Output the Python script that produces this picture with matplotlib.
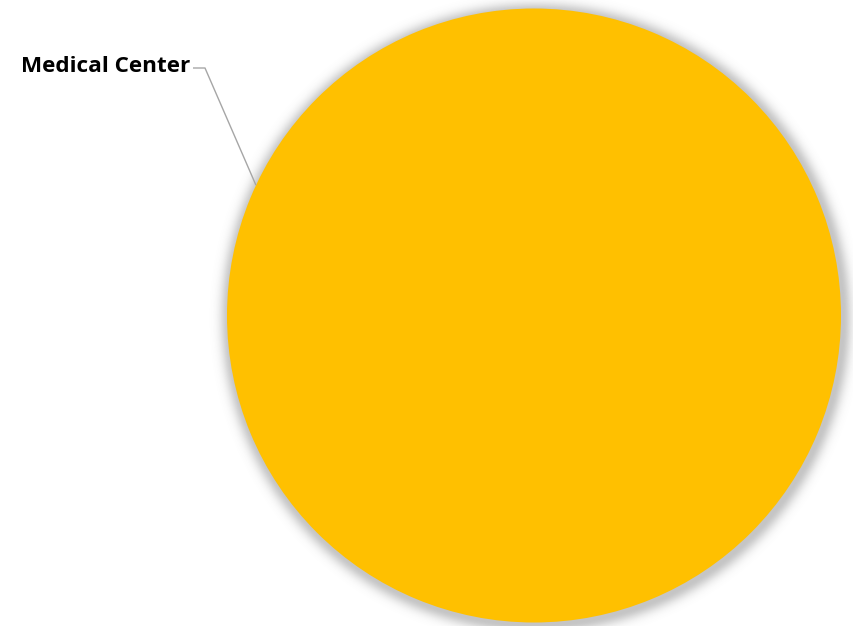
import numpy as np
import matplotlib
matplotlib.use("Agg")
import matplotlib.pyplot as plt

# Data
categories = ["Medical Center"]
values = [100]
colors = ["#FFC000"]

W, H, DPI = 854, 626, 100
fig = plt.figure(figsize=(W / DPI, H / DPI), dpi=DPI)
ax = fig.add_axes([0, 0, 1, 1])

# Pie geometry in pixels, converted to data units (1 unit = pie radius)
cx, cy, rpx = 534, 315.5, 307

# Soft drop shadow around the pie
xs = np.linspace(-1.2, 1.2, 800)
ys = np.linspace(-1.2, 1.2, 800)
X, Y = np.meshgrid(xs, ys)
D = np.hypot(X - 0.004, Y + 0.008) - 1.0
alpha = np.where(D > 0, 0.38 * np.exp(-(D / 0.03) ** 2), 0.38)
shadow = np.zeros(X.shape + (4,))
shadow[..., :3] = 0.4
shadow[..., 3] = alpha
ax.imshow(shadow, extent=(-1.2, 1.2, -1.2, 1.2), origin="lower",
          zorder=0, interpolation="bilinear")

wedges, _ = ax.pie(values, colors=colors, startangle=90, radius=1.0,
                   center=(0, 0), frame=True,
                   wedgeprops=dict(linewidth=0, zorder=1))
ax.set_xlim((0 - cx) / rpx, (W - cx) / rpx)
ax.set_ylim(-(H - cy) / rpx, cy / rpx)
ax.set_aspect("equal")
ax.axis("off")

# Leader line and label
ang = np.deg2rad(154.9)
ex, ey = np.cos(ang), np.sin(ang)
lx, ly = (205 - cx) / rpx, (cy - 68) / rpx
sx = (193 - cx) / rpx
ax.plot([ex, lx, sx], [ey, ly, ly], color="#A6A6A6", lw=1.0, zorder=2,
        solid_capstyle="butt")
ax.text((190 - cx) / rpx, (cy - 66) / rpx, categories[0], ha="right",
        va="center", fontsize=16.2, fontweight="bold", color="black",
        family=["Open Sans", "DejaVu Sans"])

fig.savefig("out.png", dpi=DPI)
